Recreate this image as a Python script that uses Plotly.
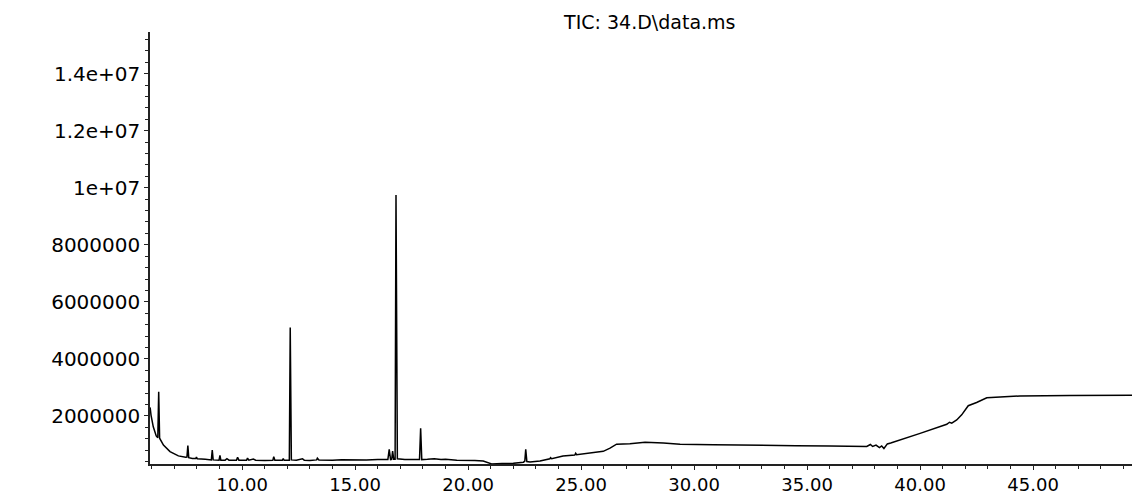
import plotly.graph_objects as go

# Retention time (min)
time_min = [
    5.93, 5.97, 6.07, 6.20, 6.27, 6.31, 6.35, 6.52, 6.81, 7.18, 7.50, 7.56, 7.60, 7.64,
    7.80, 7.95, 7.98, 8.02, 8.37, 8.64, 8.68, 8.72, 8.98, 9.02, 9.06, 9.25, 9.33, 9.42,
    9.75, 9.80, 9.86, 10.20, 10.24, 10.30, 10.50, 10.60, 11.00, 11.36, 11.40, 11.45,
    11.78, 11.82, 11.86, 12.09, 12.13, 12.18, 12.40, 12.67, 12.75, 13.00, 13.30, 13.33,
    13.40, 13.70, 14.00, 14.40, 14.90, 15.20, 15.50, 16.00, 16.45, 16.51, 16.57, 16.62,
    16.66, 16.71, 16.77, 16.81, 16.87, 17.20, 17.85, 17.90, 17.95, 18.20, 18.50, 18.80,
    19.00, 19.50, 20.00, 20.30, 20.67, 21.04, 21.50, 22.00, 22.45, 22.51, 22.55, 22.60,
    22.74, 23.18, 23.62, 23.65, 23.70, 24.20, 24.72, 24.76, 24.80, 25.40, 25.98, 26.28,
    26.57, 27.16, 27.83, 28.64, 29.38, 30.85, 33.06, 34.50, 36.01, 37.64, 37.80, 37.90,
    38.05, 38.20, 38.30, 38.40, 38.55, 38.70, 40.00, 41.18, 41.30, 41.40, 41.62, 41.84,
    42.13, 42.50, 42.95, 44.42, 46.63, 49.73,
]

# Total ion current abundance
abundance = [
    2300000, 2030000, 1620000, 1300000, 1240000, 2850000, 1220000, 980000, 750000, 600000,
    550000, 560000, 960000, 540000, 510000, 510000, 560000, 500000, 480000, 460000,
    800000, 460000, 450000, 620000, 450000, 450000, 500000, 450000, 450000, 550000,
    450000, 450000, 520000, 450000, 490000, 450000, 440000, 445000, 570000, 445000,
    445000, 510000, 445000, 450000, 5100000, 460000, 450000, 500000, 450000, 440000,
    460000, 520000, 455000, 445000, 450000, 465000, 460000, 450000, 460000, 470000,
    470000, 830000, 470000, 480000, 770000, 480000, 480000, 9750000, 500000, 470000,
    470000, 1570000, 470000, 480000, 500000, 470000, 480000, 450000, 455000, 440000,
    420000, 320000, 330000, 340000, 380000, 420000, 830000, 400000, 390000, 420000,
    500000, 540000, 500000, 600000, 630000, 690000, 640000, 690000, 760000, 870000,
    1010000, 1030000, 1080000, 1050000, 1010000, 990000, 960000, 960000, 950000, 930000,
    1000000, 930000, 980000, 890000, 950000, 860000, 1020000, 1050000, 1390000, 1710000,
    1780000, 1750000, 1860000, 2040000, 2360000, 2470000, 2640000, 2700000, 2720000,
    2730000,
]

x_tick_vals = [10, 15, 20, 25, 30, 35, 40, 45]
x_tick_text = ["10.00", "15.00", "20.00", "25.00", "30.00", "35.00", "40.00", "45.00"]
y_tick_vals = [2000000, 4000000, 6000000, 8000000, 10000000, 12000000, 14000000]
y_tick_text = ["2000000", "4000000", "6000000", "8000000", "1e+07", "1.2e+07", "1.4e+07"]
title_text = "TIC: 34.D\\data.ms"

fig = go.Figure()
fig.add_trace(go.Scatter(
    x=time_min, y=abundance, mode="lines",
    line=dict(color="black", width=1.5),
    showlegend=False, hoverinfo="x+y",
))

fig.update_layout(
    width=1140, height=495,
    margin=dict(l=142, r=8, t=24, b=39),
    paper_bgcolor="white", plot_bgcolor="white",
    font=dict(family="DejaVu Sans", color="black"),
    title=dict(text=title_text, xref="container", yref="container",
               x=0.563, y=1 - 14 / 495, xanchor="center", yanchor="middle",
               font=dict(size=19, family="DejaVu Sans", color="black")),
    xaxis=dict(
        range=[5.925, 49.73], showgrid=False, zeroline=False,
        showline=True, linecolor="#222", linewidth=1.5,
        tickmode="array", tickvals=x_tick_vals, ticktext=x_tick_text,
        ticks="outside", ticklen=4, tickwidth=1, tickcolor="#222",
        tickfont=dict(size=18, family="DejaVu Sans", color="black"),
        minor=dict(tickmode="linear", tick0=0, dtick=1, ticks="outside",
                   ticklen=3, tickwidth=1, tickcolor="#222", showgrid=False),
        automargin=False,
    ),
    yaxis=dict(
        range=[316000, 15460000], showgrid=False, zeroline=False,
        showline=True, linecolor="#222", linewidth=1.5,
        tickmode="array", tickvals=y_tick_vals, ticktext=y_tick_text,
        ticks="outside", ticklen=4, tickwidth=1, tickcolor="#222",
        tickfont=dict(size=20, family="DejaVu Sans", color="black"),
        minor=dict(tickmode="linear", tick0=0, dtick=400000, ticks="outside",
                   ticklen=3, tickwidth=1, tickcolor="#222", showgrid=False),
        automargin=False,
    ),
)

fig.write_html("out.html")
